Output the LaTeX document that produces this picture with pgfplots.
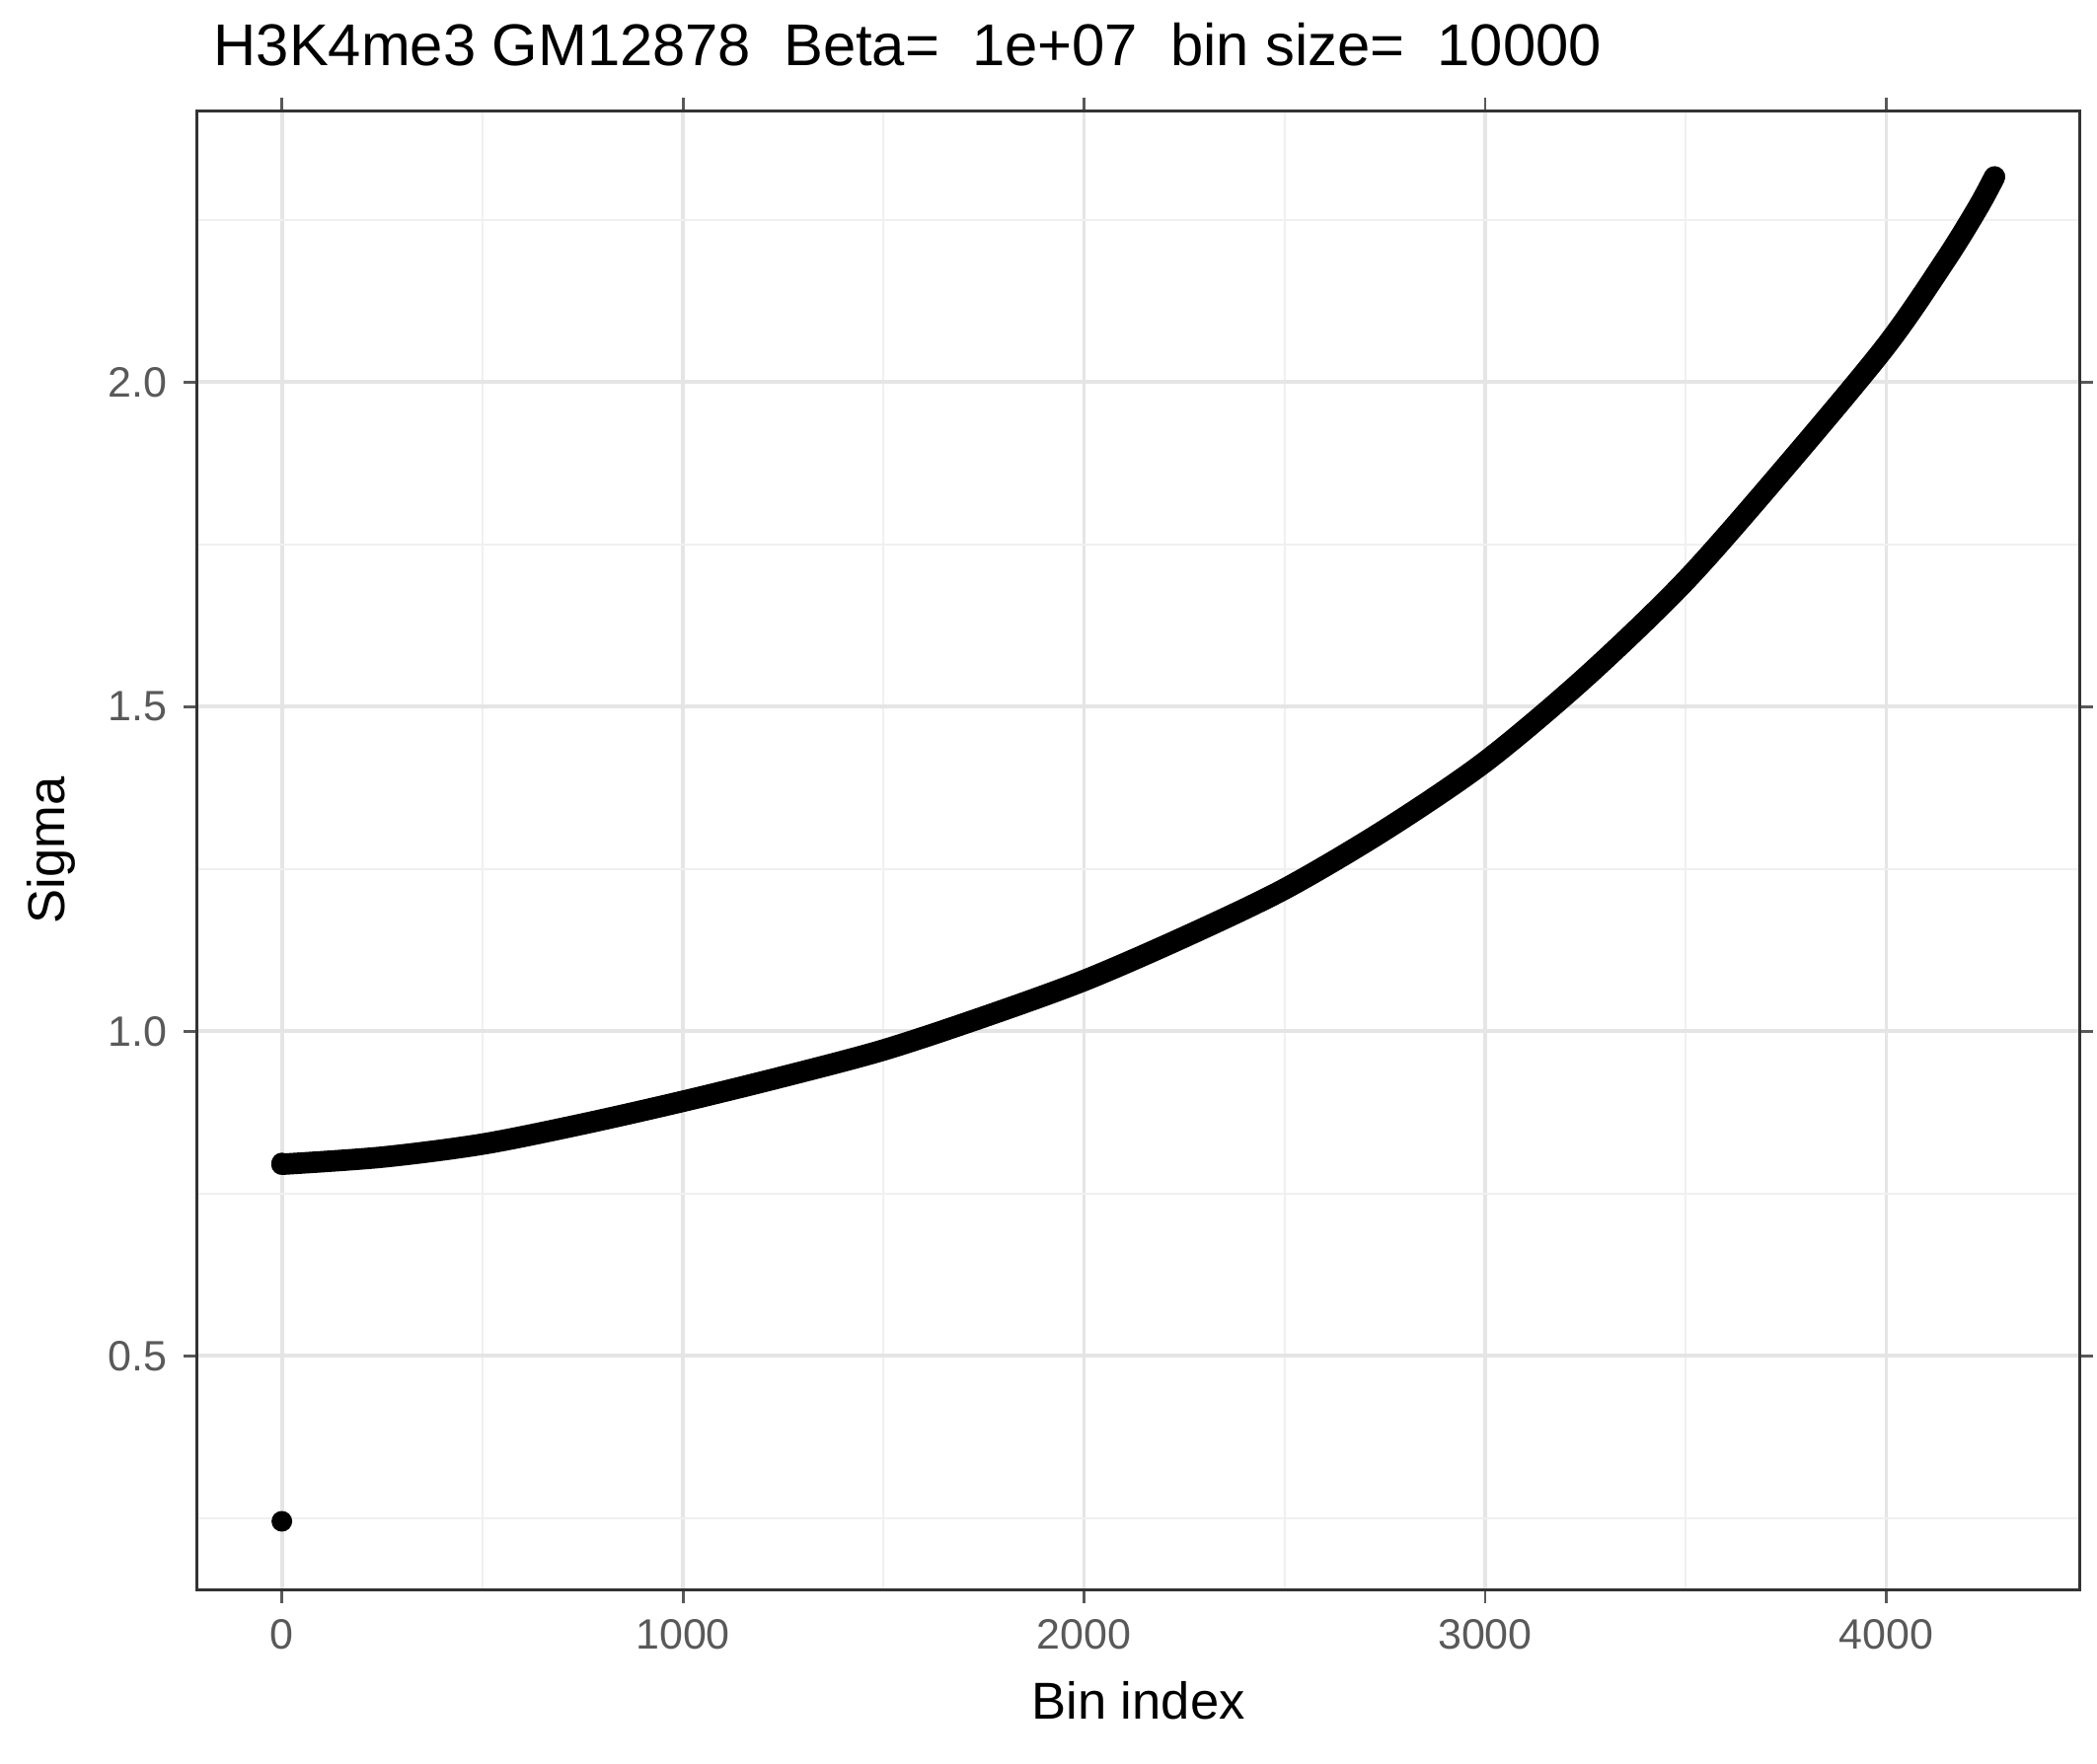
\documentclass[border=0pt]{standalone}
\usepackage{pgfplots}
\pgfplotsset{compat=1.18}
\usepackage{fontspec}
\setmainfont{Liberation Sans}
\begin{document}
\begin{tikzpicture}
\path (-1.47,-1.3) rectangle (14.16,11.85);
\begin{axis}[at={(0,0)},anchor=south west,
 width=14.03cm,height=11.02cm,scale only axis,
 xmin=-211,xmax=4482,ymin=0.14,ymax=2.417,
 xtick={0,1000,2000,3000,4000},ytick={0.5,1.0,1.5,2.0},
 minor xtick={500,1500,2500,3500},minor ytick={0.25,0.75,1.25,1.75,2.25},
 yticklabel style={/pgf/number format/.cd,fixed,fixed zerofill,precision=1},
 /pgf/number format/assume math mode=true,
 xticklabel style={/pgf/number format/1000 sep={}},
 grid=both,major grid style={gray!20,line width=0.8pt},minor grid style={gray!12,line width=0.5pt},
 tick style={gray!70!black,line width=0.6pt},tick align=outside,major tick length=0.1cm,
 minor tick length=0pt,
 ticklabel style={font=\fontsize{9pt}{10pt}\selectfont,text=gray!70!black},
 axis line style={black!80,line width=0.6pt},
 xlabel={Bin index},ylabel={Sigma},
 label style={font=\fontsize{11pt}{12pt}\selectfont},
 title={H3K4me3 GM12878\ \ Beta=\ \ 1e+07\ \ bin size=\ \ 10000},
 title style={font=\fontsize{12.5pt}{14pt}\selectfont,anchor=south west,at={(0,1)},xshift=0pt},
]
\addplot[black,line width=0.16cm,smooth,line cap=round] coordinates {
(0,0.795)(250,0.806)(500,0.826)(750,0.857)(1000,0.892)(1250,0.930)(1500,0.971)(1750,1.022)(2000,1.078)(2250,1.145)(2500,1.219)(2750,1.31)(3000,1.415)(3250,1.545)(3500,1.694)(3750,1.87)(4000,2.056)(4150,2.19)(4230,2.27)(4270,2.316)};
\addplot[only marks,mark=*,mark size=0.07cm,black] coordinates {(0,0.245)(0,0.797)(4270,2.316)};
\end{axis}
\end{tikzpicture}
\end{document}
